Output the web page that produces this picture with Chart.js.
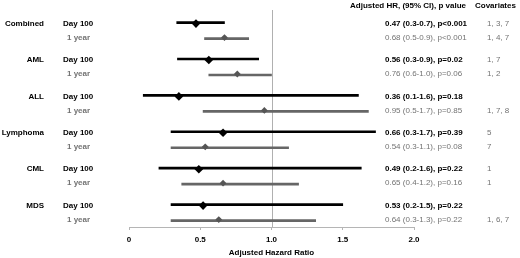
<!DOCTYPE html>
<html><head><meta charset="utf-8">
<script src="https://cdn.jsdelivr.net/npm/chart.js@4/dist/chart.umd.min.js"></script>
<style>html,body{margin:0;padding:0;background:#fff}#wrap{width:520px;height:258px;position:relative}</style>
</head><body><div id="wrap"><canvas id="c" width="520" height="258"></canvas></div>
<script>
const groups = ['Combined','AML','ALL','Lymphoma','CML','MDS'];
const rowLabels = ['Day 100','1 year'];
const day100HR = [0.47,0.56,0.35,0.66,0.49,0.52];
const day100Lo = [0.335,0.34,0.10,0.295,0.21,0.295];
const day100Hi = [0.67,0.91,1.61,1.73,1.63,1.50];
const year1HR = [0.67,0.76,0.95,0.535,0.66,0.63];
const year1Lo = [0.53,0.56,0.52,0.295,0.37,0.295];
const year1Hi = [0.84,1.00,1.68,1.12,1.19,1.31];
const day100Text = ['0.47 (0.3-0.7), p<0.001','0.56 (0.3-0.9), p=0.02','0.36 (0.1-1.6), p=0.18','0.66 (0.3-1.7), p=0.39','0.49 (0.2-1.6), p=0.22','0.53 (0.2-1.5), p=0.22'];
const year1Text = ['0.68 (0.5-0.9), p<0.001','0.76 (0.6-1.0), p=0.06','0.95 (0.5-1.7), p=0.85','0.54 (0.3-1.1), p=0.08','0.65 (0.4-1.2), p=0.16','0.64 (0.3-1.3), p=0.22'];
const day100Cov = ['1, 3, 7','1, 7','','5','1',''];
const year1Cov = ['1, 4, 7','1, 2','1, 7, 8','7','1','1, 6, 7'];
const xTicks = [0,0.5,1.0,1.5,2.0];
const xTickLabels = ['0','0.5','1.0','1.5','2.0'];
const refValue = 1.0;
const headerHR = 'Adjusted HR, (95% CI), p value';
const headerCov = 'Covariates';
const xTitle = 'Adjusted Hazard Ratio';

const GROUP_STEP = 2.6;
const pos = (g, r) => g * GROUP_STEP + r;
const BLACK = '#000000', GREY = '#666666', DGREY = '#555555', TGREY = '#737373';
const FONT = '"Liberation Sans", Arial, sans-serif';
const FS = 8;

const barsD = groups.map((g,i)=>({x:[day100Lo[i],day100Hi[i]], y:pos(i,0)}));
const barsY = groups.map((g,i)=>({x:[year1Lo[i],year1Hi[i]], y:pos(i,1)}));
const ptsD = groups.map((g,i)=>({x:day100HR[i], y:pos(i,0)}));
const ptsY = groups.map((g,i)=>({x:year1HR[i], y:pos(i,1)}));

const textPlugin = {
  id:'texts',
  beforeDatasetsDraw(chart){
    const {ctx, chartArea, scales:{x}} = chart;
    const px = x.getPixelForValue(refValue);
    ctx.save();
    ctx.strokeStyle = '#b0b0b0'; ctx.lineWidth = 1;
    ctx.beginPath(); ctx.moveTo(Math.round(px)+0.5, chartArea.top); ctx.lineTo(Math.round(px)+0.5, chartArea.bottom); ctx.stroke();
    ctx.restore();
  },
  afterDraw(chart){
    const {ctx, scales:{y}} = chart;
    ctx.save();
    ctx.textBaseline = 'middle';
    const bold = 'bold ' + FS + 'px ' + FONT, reg = FS + 'px ' + FONT;
    groups.forEach((g,i)=>{
      const y0 = y.getPixelForValue(pos(i,0)), y1 = y.getPixelForValue(pos(i,1));
      ctx.font = bold; ctx.fillStyle = BLACK; ctx.textAlign = 'right';
      ctx.fillText(g, 44, y0);
      ctx.textAlign = 'left';
      ctx.fillText(rowLabels[0], 63, y0);
      ctx.fillText(day100Text[i], 385, y0);
      ctx.fillStyle = TGREY;
      ctx.fillText(rowLabels[1], 67, y1);
      ctx.font = reg;
      ctx.fillText(year1Text[i], 385, y1);
      ctx.fillText(day100Cov[i], 487, y0);
      ctx.fillText(year1Cov[i], 487, y1);
    });
    ctx.font = bold; ctx.fillStyle = BLACK; ctx.textAlign='left';
    ctx.fillText(headerHR, 350, 6);
    ctx.fillText(headerCov, 475, 6);
    ctx.restore();
  }
};

new Chart(document.getElementById('c'), {
  type:'bar',
  data:{datasets:[
    {type:'bar', data:barsD, backgroundColor:BLACK, barThickness:2, indexAxis:'y', order:2},
    {type:'bar', data:barsY, backgroundColor:GREY, barThickness:2, indexAxis:'y', order:2},
    {type:'scatter', data:ptsD, pointStyle:'rectRot', radius:4.3, backgroundColor:BLACK, borderColor:BLACK, borderWidth:0, order:1},
    {type:'scatter', data:ptsY, pointStyle:'rectRot', radius:3.4, backgroundColor:DGREY, borderColor:DGREY, borderWidth:0, order:1}
  ]},
  options:{
    indexAxis:'y',
    responsive:false, animation:false, maintainAspectRatio:false,
    layout:{padding:{left:129, right:106, top:10, bottom:0}},
    plugins:{legend:{display:false}, tooltip:{enabled:false}},
    scales:{
      x:{type:'linear', min:0, max:2, offset:false,
        afterBuildTicks(ax){ ax.ticks = xTicks.map(v=>({value:v})); },
        afterFit(ax){ ax.height = 31; },
        ticks:{callback:(v,i)=>xTickLabels[i], color:BLACK, font:{family:FONT, size:FS, weight:'bold'}, padding:5, maxRotation:0},
        grid:{drawOnChartArea:false, drawTicks:true, tickLength:3, color:'#b5b5b5'},
        border:{color:'#b5b5b5'},
        title:{display:true, text:xTitle, color:BLACK, font:{family:FONT, size:FS, weight:'bold'}, padding:{top:0,bottom:0}}
      },
      y:{type:'linear', reverse:true, min:-0.97, max:14.53, display:false, offset:false}
    }
  },
  plugins:[textPlugin]
});
</script></body></html>
